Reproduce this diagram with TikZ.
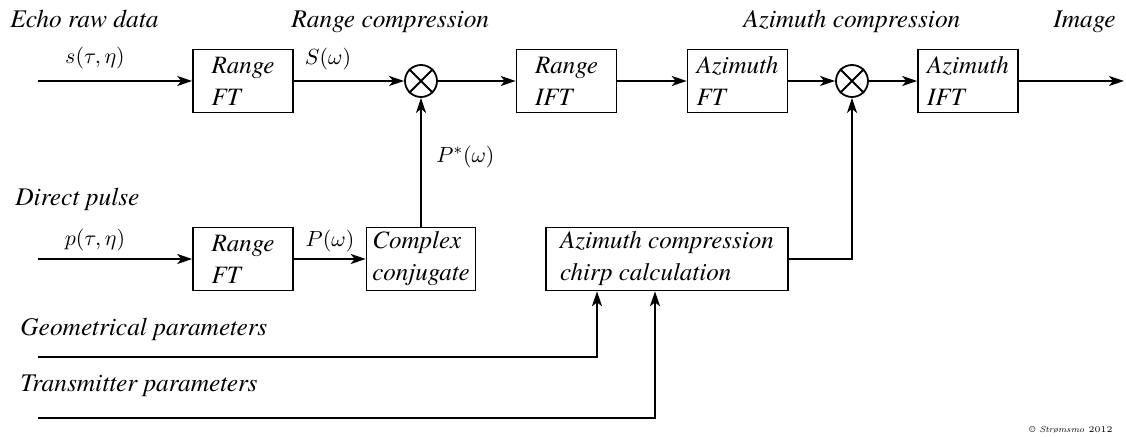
\documentclass[tikz,border=0pt]{standalone}
\usepackage{amsmath,amssymb}
\usepackage{fontspec}
\newfontfamily\tms{TeX Gyre Termes}
\usetikzlibrary{arrows.meta}
\usetikzlibrary{positioning}
\tikzset{
  bloco/.style={draw, line width=0.8pt, align=left, minimum width=#1, minimum height=31.5pt, inner sep=2pt, font=\tms\itshape\fontsize{12.5}{16}\selectfont},
  bloco/.default=50pt,
  seta/.style={-{Stealth[length=7.5pt,width=5pt,inset=2pt]}, line width=0.95pt},
}

\begin{document}
\begin{tikzpicture}[x=0.5pt, y=-0.5pt,
  rotulo/.style={font=\tms\itshape\fontsize{12.7}{15}\selectfont, inner sep=0pt, anchor=base west},
  sinal/.style={font=\fontsize{11}{13}\selectfont, inner sep=0pt},
  mult/.style={draw, circle, line width=0.9pt, minimum size=16pt, inner sep=0pt}]
  \useasboundingbox (0,0) rectangle (1126,437);
  % titulos
  \node[rotulo] (teco) at (10,28) {Echo raw data};
  \node[rotulo] (trc) at (291,28) {Range compression};
  \node[rotulo] (tac) at (743,28) {Azimuth compression};
  \node[rotulo] (timg) at (1053,28) {Image};
  \node[rotulo] (tdir) at (15,206) {Direct pulse};
  \node[rotulo] (tgeo) at (20,336) {Geometrical parameters};
  \node[rotulo] (ttx) at (20,392) {Transmitter parameters};
  % blocos
  \node[bloco] (rft1) at (243,81) {Range\\FT};
  \node[bloco] (rift) at (566.5,81) {Range\\IFT};
  \node[bloco] (azft) at (737.5,81) {Azimuth\\FT};
  \node[bloco] (aift) at (968,81) {Azimuth\\IFT};
  \node[bloco] (rft2) at (243,259) {Range\\FT};
  \node[bloco=54.5pt] (conj) at (421,259) {Complex\\conjugate};
  \node[bloco=121pt] (chirp) at (667,259) {Azimuth compression\\chirp calculation};
  \node[mult] (m1) at (421,81) {};
  \node[mult] (m2) at (852,81) {};
  \foreach \m in {m1,m2}
    \draw[line width=0.9pt] (\m.north west) -- (\m.south east) (\m.north east) -- (\m.south west);
  % sinais
  \node[sinal] (ls) at (95,58) {$s(\tau,\eta)$};
  \node[sinal] (lS) at (328,59) {$S(\omega)$};
  \node[sinal, anchor=west] (lPc) at (436,157) {$P^*(\omega)$};
  \node[sinal] (lp) at (95,240) {$p(\tau,\eta)$};
  \node[sinal] (lP) at (330,241) {$P(\omega)$};
  % entradas e saida
  \coordinate (eco) at (38,81);
  \coordinate (dir) at (38,259);
  \coordinate (geo) at (38,357);
  \coordinate (tx) at (38,418);
  \coordinate (saida) at (1124,81);
  \coordinate (xg) at (597,0);
  \coordinate (xt) at (655,0);
  \foreach \a/\b in {eco/rft1,rft1/m1,m1/rift,rift/azft,azft/m2,m2/aift,aift/saida,dir/rft2,rft2/conj,conj/m1}
    \draw[seta] (\a) -- (\b);
  \draw[seta] (chirp.east) -| (m2.south);
  \draw[seta] (geo) -| (xg |- chirp.south);
  \draw[seta] (tx) -| (xt |- chirp.south);
  \node[font=\fontsize{4.4}{5}\selectfont, anchor=east, inner sep=0pt] (copy) at (1113,430) {\copyright\ \textit{Strømsmo} 2012};
\end{tikzpicture}
\end{document}
